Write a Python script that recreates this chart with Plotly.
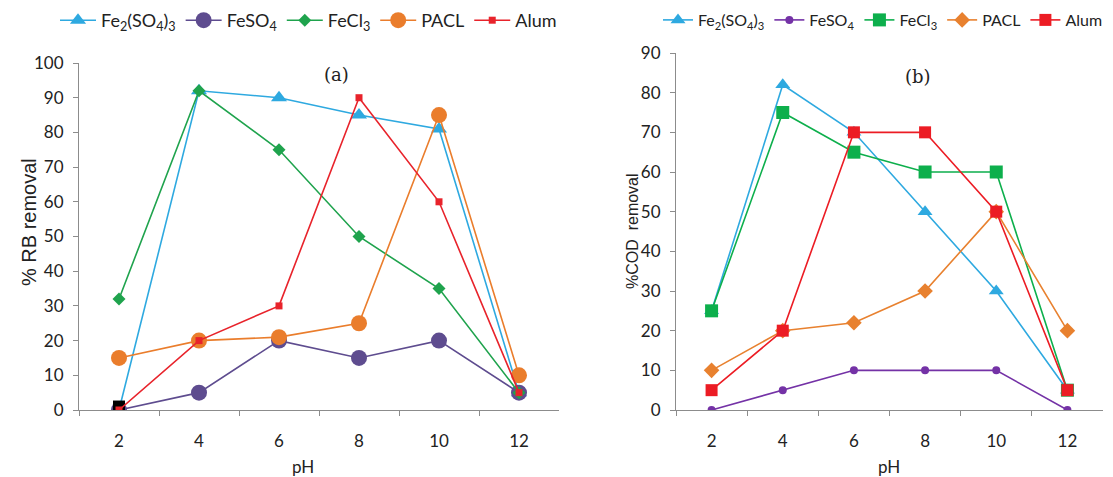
import plotly.graph_objects as go

ph = ["2", "4", "6", "8", "10", "12"]
names = ["Fe<sub>2</sub>(SO<sub>4</sub>)<sub>3</sub>", "FeSO<sub>4</sub>", "FeCl<sub>3</sub>", "PACL", "Alum"]

# Panel (a): % RB removal
rb_fe2so43 = [0, 92, 90, 85, 81, 5]
rb_feso4 = [0, 5, 20, 15, 20, 5]
rb_fecl3 = [32, 92, 75, 50, 35, 5]
rb_pacl = [15, 20, 21, 25, 85, 10]
rb_alum = [0, 20, 30, 90, 60, 5]
rb_black_x = ["2"]
rb_black_y = [1]

# Panel (b): % COD removal
cod_fe2so43 = [25, 82, 70, 50, 30, 5]
cod_feso4 = [0, 5, 10, 10, 10, 0]
cod_fecl3 = [25, 75, 65, 60, 60, 5]
cod_pacl = [10, 20, 22, 30, 50, 20]
cod_alum = [5, 20, 70, 70, 50, 5]

W, H = 1113, 477

def px_x(p):
    return p / W

def px_y(p):
    return 1 - p / H

fig = go.Figure()

left_specs = [
    (rb_fe2so43, "#2EA9E0", "triangle-up", 14),
    (rb_feso4, "#5E4C8F", "circle", 16),
    (rb_fecl3, "#1FA34D", "diamond", 10),
    (rb_pacl, "#EA7D2C", "circle", 16),
    (rb_alum, "#E8232B", "square", 7),
]
right_specs = [
    (cod_fe2so43, "#2EA9E0", "triangle-up", 13),
    (cod_feso4, "#7432A6", "circle", 8),
    (cod_fecl3, "#0DAF4C", "square", 13),
    (cod_pacl, "#E8812F", "diamond", 12),
    (cod_alum, "#EC1C24", "square", 12),
]

for i, (vals, col, sym, sz) in enumerate(left_specs):
    if i == 4:
        fig.add_trace(go.Scatter(x=rb_black_x, y=rb_black_y, mode="markers",
                                 marker=dict(symbol="square", size=12, color="black"),
                                 showlegend=False, xaxis="x", yaxis="y", hoverinfo="skip"))
    fig.add_trace(go.Scatter(x=ph, y=vals, name=names[i], mode="lines+markers",
                             line=dict(color=col, width=1.6),
                             marker=dict(symbol=sym, size=sz, color=col),
                             xaxis="x", yaxis="y", legend="legend"))

for i, (vals, col, sym, sz) in enumerate(right_specs):
    fig.add_trace(go.Scatter(x=ph, y=vals, name=names[i], mode="lines+markers",
                             line=dict(color=col, width=1.6),
                             marker=dict(symbol=sym, size=sz, color=col),
                             xaxis="x2", yaxis="y2", legend="legend2"))

axis_common = dict(showgrid=False, zeroline=False, showline=True, linecolor="#8c8c8c",
                   linewidth=1.2, ticks="outside", tickcolor="#8c8c8c", ticklen=5,
                   automargin=False,
                   tickfont=dict(family="Lato", size=17, color="#222"))

title_font = dict(family="Lato", size=17, color="#222")

fig.update_layout(
    width=W, height=H,
    margin=dict(l=0, r=0, t=0, b=0, autoexpand=False),
    paper_bgcolor="white", plot_bgcolor="white",
    xaxis=dict(domain=[px_x(79), px_x(559)], type="category", tickson="boundaries",
               range=[-0.5, 5.5], anchor="y", ticklabelstandoff=15, **axis_common),
    yaxis=dict(domain=[px_y(410), px_y(63)], range=[0, 100], dtick=10, anchor="x",
               ticklabelstandoff=6, **axis_common),
    xaxis2=dict(domain=[px_x(676), px_x(1103)], type="category", tickson="boundaries",
                range=[-0.5, 5.5], anchor="y2", ticklabelstandoff=15, **axis_common),
    yaxis2=dict(domain=[px_y(410), px_y(53)], range=[0, 90], dtick=10, anchor="x2",
                ticklabelstandoff=6, **axis_common),
    legend=dict(orientation="h", x=px_x(55), y=px_y(2), xanchor="left", yanchor="top",
                font=dict(family="Lato", size=18, color="#222"), bgcolor="rgba(0,0,0,0)",
                itemwidth=36, tracegroupgap=0),
    legend2=dict(orientation="h", x=px_x(658), y=px_y(3), xanchor="left", yanchor="top",
                 font=dict(family="Lato", size=16, color="#222"), bgcolor="rgba(0,0,0,0)",
                 itemwidth=30, tracegroupgap=0),
    annotations=[
        dict(text="(a)", x=px_x(336), y=px_y(74), xref="paper", yref="paper", showarrow=False,
             xanchor="center", yanchor="middle",
             font=dict(family="DejaVu Serif", size=18, color="#222")),
        dict(text="(b)", x=px_x(918), y=px_y(76), xref="paper", yref="paper", showarrow=False,
             xanchor="center", yanchor="middle",
             font=dict(family="DejaVu Serif", size=18, color="#222")),
        dict(text="% RB removal", x=px_x(29), y=px_y(222), xref="paper", yref="paper",
             showarrow=False, textangle=-90, xanchor="center", yanchor="middle",
             font=dict(family="Liberation Sans", size=20, color="#222")),
        dict(text="%COD  removal", x=px_x(632), y=px_y(231), xref="paper", yref="paper",
             showarrow=False, textangle=-90, xanchor="center", yanchor="middle",
             font=dict(family="Liberation Sans", size=16, color="#222")),
        dict(text="pH", x=px_x(303), y=px_y(466), xref="paper", yref="paper",
             showarrow=False, xanchor="center", yanchor="middle", font=title_font),
        dict(text="pH", x=px_x(889), y=px_y(466), xref="paper", yref="paper",
             showarrow=False, xanchor="center", yanchor="middle", font=title_font),
    ],
)

fig.write_html("out.html")
